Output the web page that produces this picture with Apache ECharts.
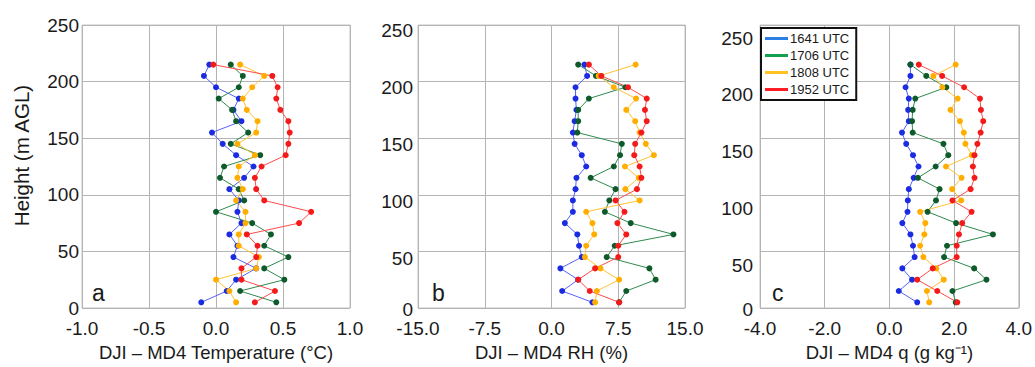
<!DOCTYPE html>
<html>
<head>
<meta charset="utf-8">
<title>DJI – MD4 difference profiles</title>
<script src="https://cdn.jsdelivr.net/npm/echarts@6/dist/echarts.min.js"></script>
<style>
  html, body { margin: 0; padding: 0; background: #ffffff; }
  #chart { width: 1035px; height: 367px; }
</style>
</head>
<body>
<div id="chart"></div>
<script>
// Measurement heights (m AGL), bottom to top
const heights = [5, 15, 25, 35, 45, 55, 65, 75, 85, 95, 105, 115, 125, 135, 145, 155, 165, 175, 185, 195, 205, 215];
const flightNames = ['1641 UTC', '1706 UTC', '1808 UTC', '1952 UTC'];

// (a) DJI – MD4 temperature difference (°C)
const temp1641 = [-0.11, 0.08, 0.15, 0.30, 0.13, 0.16, 0.10, 0.19, 0.16, 0.17, 0.10, 0.21, 0.28, 0.15, 0.05, -0.03, 0.19, 0.13, 0.17, 0.00, -0.09, -0.05];
const temp1706 = [0.45, 0.18, 0.51, 0.36, 0.54, 0.36, 0.41, 0.27, 0.00, 0.21, 0.17, 0.03, 0.06, 0.33, 0.11, 0.24, 0.15, 0.12, 0.02, 0.17, 0.20, 0.11];
const temp1808 = [0.15, 0.10, 0.00, 0.30, 0.32, 0.17, 0.17, 0.22, 0.22, 0.15, 0.20, 0.16, 0.17, 0.29, 0.16, 0.30, 0.31, 0.23, 0.20, 0.27, 0.36, 0.18];
const temp1952 = [0.29, 0.44, 0.19, 0.19, 0.30, 0.31, 0.23, 0.62, 0.71, 0.36, 0.30, 0.29, 0.34, 0.52, 0.54, 0.55, 0.54, 0.48, 0.45, 0.46, 0.42, -0.02];

// (b) DJI – MD4 relative humidity difference (%)
const rh1641 = [4.6, 1.2, 3.0, 1.0, 3.4, 3.1, 2.9, 1.5, 2.4, 2.4, 2.7, 2.8, 3.9, 3.4, 2.6, 2.4, 2.6, 2.8, 2.7, 2.7, 4.0, 3.7];
const rh1706 = [7.6, 8.4, 11.7, 11.0, 6.2, 7.1, 13.7, 8.9, 6.0, 6.5, 7.2, 4.4, 7.0, 7.7, 7.9, 2.9, 3.0, 3.0, 4.2, 8.3, 5.0, 3.0];
const rh1808 = [4.9, 5.1, 7.6, 5.5, 3.75, 3.9, 4.8, 4.6, 3.9, 9.9, 8.3, 9.8, 8.25, 11.5, 10.6, 9.9, 9.4, 8.4, 9.5, 7.0, 5.3, 9.45];
const rh1952 = [7.6, 4.3, 3.0, 4.9, 7.5, 7.5, 8.4, 7.4, 8.2, 7.2, 9.6, 10.1, 9.9, 9.3, 9.4, 10.1, 10.7, 10.5, 10.7, 8.6, 5.6, 4.2];

// (c) DJI – MD4 specific humidity difference (g kg-1)
const q1641 = [0.86, 0.29, 0.70, 0.40, 0.78, 0.73, 0.65, 0.40, 0.56, 0.57, 0.60, 0.75, 0.90, 0.73, 0.52, 0.39, 0.60, 0.58, 0.60, 0.50, 0.65, 0.65];
const q1706 = [2.05, 1.95, 3.00, 2.62, 1.69, 1.78, 3.20, 2.06, 1.18, 1.44, 1.55, 0.88, 1.43, 1.82, 1.67, 0.72, 0.70, 0.72, 0.80, 1.76, 1.14, 0.65];
const q1808 = [1.23, 1.16, 1.68, 1.45, 1.05, 0.95, 1.08, 1.11, 0.95, 2.22, 1.94, 2.23, 1.75, 2.55, 2.35, 2.30, 2.18, 1.89, 2.11, 1.64, 1.36, 2.05];
const q1952 = [2.10, 1.48, 0.86, 1.34, 2.08, 2.08, 2.15, 2.25, 2.54, 1.95, 2.51, 2.63, 2.58, 2.63, 2.72, 2.82, 2.90, 2.83, 2.80, 2.31, 1.63, 0.91];

// Axis ranges and tick labels
const heightTicks = [0, 50, 100, 150, 200, 250];
const tempTicks = [-1.0, -0.5, 0.0, 0.5, 1.0];
const rhTicks = [-15.0, -7.5, 0.0, 7.5, 15.0];
const qTicks = [-4.0, -2.0, 0.0, 2.0, 4.0];
const panelLetters = ['a', 'b', 'c'];
const xTitles = ['DJI \u2013 MD4 Temperature (\u00B0C)', 'DJI \u2013 MD4 RH (%)', 'DJI \u2013 MD4 q (g kg\u207B\u00B9)'];

const FONT = '"Liberation Sans", Arial, Helvetica, sans-serif';
const TEXT = '#1a1a1a';
const GRIDLINE = '#b4b4b4';

const lineColors = ['#5563f7', '#2f8a4e', '#ffc233', '#ff4b4b'];
const dotColors = ['#1b2be0', '#0e5a2b', '#ffae00', '#f21a1a'];
const legendColors = ['#2c7fe3', '#13a050', '#ffc21f', '#ff1c24'];

const panelValues = [
  [temp1641, temp1706, temp1808, temp1952],
  [rh1641, rh1706, rh1808, rh1952],
  [q1641, q1706, q1808, q1952]
];
const panelTicks = [tempTicks, rhTicks, qTicks];

// Plot frames (px)
const frames = [
  { left: 82, width: 268 },
  { left: 418, width: 267 },
  { left: 760, width: 265 }
];
const plotTop = 25, plotHeight = 287;

// Shared tick label style
const tickLabel = { fontSize: 19, lineHeight: 14, color: TEXT, fontFamily: FONT, showMinLabel: true, showMaxLabel: true };

const grids = [], xAxes = [], yAxes = [], series = [];
const hMin = heightTicks[0], hMax = heightTicks[heightTicks.length - 1], hStep = heightTicks[1] - heightTicks[0];

frames.forEach((f, p) => {
  const ticks = panelTicks[p];
  grids.push({
    left: f.left, top: plotTop, width: f.width, height: plotHeight,
    show: true, borderColor: '#c4c4c4', borderWidth: 1, backgroundColor: 'transparent'
  });
  xAxes.push({
    type: 'value', gridIndex: p,
    min: ticks[0], max: ticks[ticks.length - 1], interval: ticks[1] - ticks[0],
    axisLine: { show: false }, axisTick: { show: false },
    splitLine: { show: true, lineStyle: { color: GRIDLINE, width: 1 } },
    axisLabel: Object.assign({}, tickLabel, { show: true, margin: 13, formatter: v => v.toFixed(1) }),
    name: xTitles[p], nameLocation: 'middle', nameGap: 35,
    nameTextStyle: { fontSize: 18.5, color: TEXT, fontFamily: FONT }
  });
  yAxes.push({
    type: 'value', gridIndex: p,
    min: hMin, max: hMax, interval: hStep,
    axisLine: { show: false }, axisTick: { show: false },
    splitLine: { show: true, lineStyle: { color: GRIDLINE, width: 1 } },
    axisLabel: Object.assign({}, tickLabel, { show: p === 0, margin: 3 }),
    name: p === 0 ? 'Height (m AGL)' : '',
    nameLocation: 'middle', nameGap: 50, nameRotate: 90,
    nameTextStyle: { fontSize: 20.5, color: TEXT, fontFamily: FONT, padding: [0, 0, 0, 22] }
  });
  panelValues[p].forEach((vals, s) => {
    series.push({
      type: 'line', name: flightNames[s],
      xAxisIndex: p, yAxisIndex: p,
      data: heights.map((h, i) => [vals[i], h]),
      symbol: 'circle', symbolSize: 6, showSymbol: true,
      lineStyle: { width: 1, color: lineColors[s] },
      itemStyle: { color: dotColors[s] },
      emphasis: { disabled: true },
      animation: false, silent: true
    });
  });
});

// Height label columns for panels b and c: 50–250 column plus a separate ground-level "0"
const labelFrames = [
  { left: 418, top: 30, height: 286, margin: 5, interval: hStep, showMin: false, showMax: true },
  { left: 418, top: 59, height: 250, margin: 5, interval: hMax, showMin: true, showMax: false },
  { left: 760, top: 38, height: 284, margin: 7, interval: hStep, showMin: false, showMax: true },
  { left: 760, top: 59, height: 250, margin: 7, interval: hMax, showMin: true, showMax: false }
];
labelFrames.forEach((lf) => {
  const gi = grids.length;
  grids.push({ left: lf.left, top: lf.top, width: 10, height: lf.height, show: false });
  xAxes.push({ type: 'value', gridIndex: gi, show: false, min: 0, max: 1 });
  yAxes.push({
    type: 'value', gridIndex: gi,
    min: hMin, max: hMax, interval: lf.interval,
    axisLine: { show: false }, axisTick: { show: false }, splitLine: { show: false },
    axisLabel: Object.assign({}, tickLabel, {
      show: true, margin: lf.margin, showMinLabel: lf.showMin, showMaxLabel: lf.showMax
    })
  });
});

const chart = echarts.init(document.getElementById('chart'), null, { renderer: 'svg' });
chart.setOption({
  backgroundColor: '#ffffff',
  animation: false,
  title: panelLetters.map((t, i) => ({
    text: t,
    left: [92, 432, 772][i],
    top: 281,
    padding: 0,
    textStyle: { fontSize: 23, fontWeight: 'normal', color: TEXT, fontFamily: FONT }
  })),
  legend: {
    orient: 'vertical',
    left: 761, top: 28,
    padding: [3, 7, 3, 4],
    itemGap: 2,
    itemWidth: 23, itemHeight: 3,
    icon: 'rect',
    selectedMode: false,
    backgroundColor: '#ffffff',
    borderColor: '#111111', borderWidth: 2, borderRadius: 0,
    textStyle: { fontSize: 13, color: TEXT, fontFamily: FONT, padding: [0, 0, 0, -3], lineHeight: 15 },
    data: flightNames.map((n, i) => ({ name: n, itemStyle: { color: legendColors[i] } }))
  },
  grid: grids,
  xAxis: xAxes,
  yAxis: yAxes,
  series: series
});
</script>
</body>
</html>
